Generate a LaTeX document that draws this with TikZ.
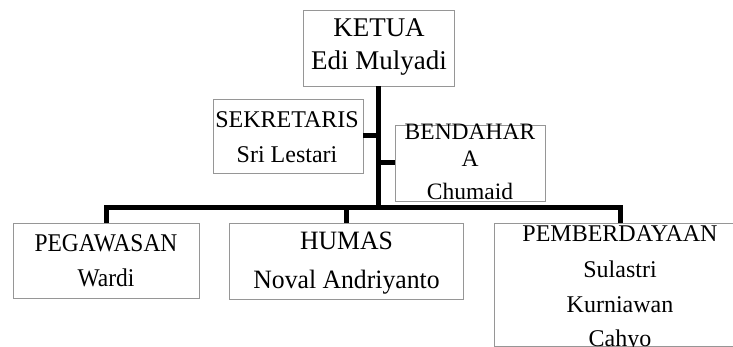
\documentclass[tikz,border=0pt]{standalone}
\usepackage{fontspec}
\setmainfont{Liberation Serif}
\newfontfamily\condA[FakeStretch=0.92]{Liberation Serif}
\newfontfamily\condB[FakeStretch=0.97]{Liberation Serif}
\definecolor{boxgray}{RGB}{150,150,150}
\tikzset{
  orgbox/.style={draw=boxgray, line width=0.9pt, fill=white, inner sep=0pt, rectangle},
  conn/.style={draw=black, line width=5pt, line join=miter},
  lbl/.style={inner sep=0pt, anchor=base, text=black}
}
\begin{document}
\begin{tikzpicture}[x=1pt,y=-1pt]
\useasboundingbox (0,0) rectangle (733,347);
\clip (0,0) rectangle (733,347);
% boxes
\node[orgbox, minimum width=151pt, minimum height=76pt] (ketua) at (378.5,48) {};
\node[orgbox, minimum width=150pt, minimum height=74pt] (sek) at (288,136) {};
\node[orgbox, minimum width=150pt, minimum height=76pt] (ben) at (470,163) {};
\node[orgbox, minimum width=186pt, minimum height=75pt] (peg) at (106,260.5) {};
\node[orgbox, minimum width=234pt, minimum height=76pt] (hum) at (346,261) {};
\node[orgbox, minimum width=252pt, minimum height=123pt] (pem) at (620,284.5) {};
% connectors
\coordinate (busL) at (106,208);
\coordinate (busR) at (620,208);
\draw[conn] (peg.north) -- (busL) -- (busR) -- (pem.north);
\draw[conn] (ketua.south) -- (ketua.south |- busL);
\draw[conn] (hum.north) -- (hum.north |- busL);
\draw[conn] (sek.east) -- (sek.east -| ketua.south);
\draw[conn] (ben.west) -- (ben.west -| ketua.south);
% texts
\node[lbl, font=\fontsize{27}{30}\selectfont] (t1) at (379,37) {KETUA};
\node[lbl, font=\fontsize{27}{30}\selectfont] (t2) at (379,70) {Edi Mulyadi};
\node[lbl, font=\fontsize{24}{28}\selectfont] (t3) at (287,128) {SEKRETARIS};
\node[lbl, font=\fontsize{24}{28}\selectfont] (t4) at (287,163) {Sri Lestari};
\node[lbl, font=\fontsize{23.5}{27}\selectfont] (t5) at (470,140) {BENDAHAR};
\node[lbl, font=\fontsize{23.5}{27}\selectfont] (t6) at (470,167) {A};
\node[lbl, font=\fontsize{23.5}{27}\selectfont] (t7) at (470,200) {Chumaid};
\node[lbl, font=\condA\fontsize{25.5}{28}\selectfont] (t8) at (106,252) {PEGAWASAN};
\node[lbl, font=\condA\fontsize{25.5}{28}\selectfont] (t9) at (106,287) {Wardi};
\node[lbl, font=\condB\fontsize{26.5}{29}\selectfont] (t10) at (346.5,250) {HUMAS};
\node[lbl, font=\condB\fontsize{26.5}{29}\selectfont] (t11) at (346.5,288) {Noval Andriyanto};
\node[lbl, font=\fontsize{24}{28}\selectfont] (t12) at (620,242) {PEMBERDAYAAN};
\node[lbl, font=\fontsize{24}{28}\selectfont] (t13) at (620,277) {Sulastri};
\node[lbl, font=\fontsize{24}{28}\selectfont] (t14) at (620,312) {Kurniawan};
\node[lbl, font=\fontsize{24}{28}\selectfont] (t15) at (620,346) {Cahyo};
\end{tikzpicture}
\end{document}
